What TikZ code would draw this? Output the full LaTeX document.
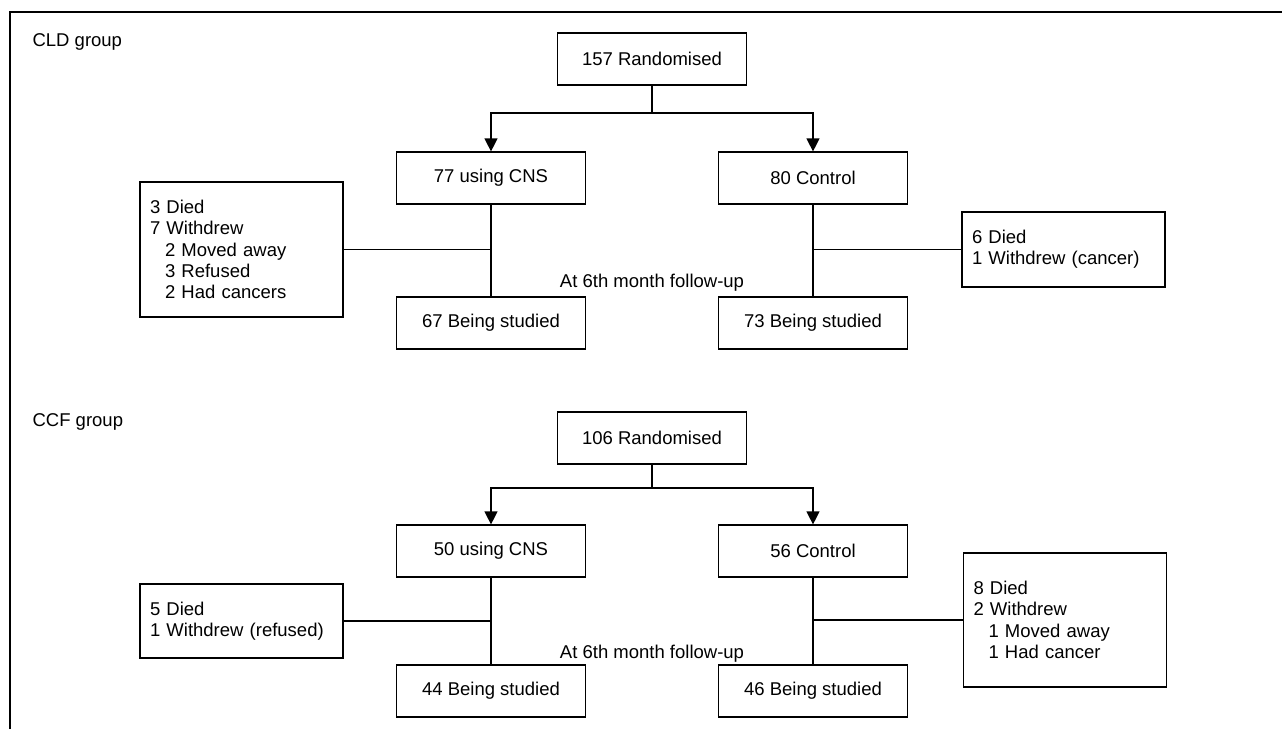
\documentclass[tikz,border=0pt]{standalone}
\usepackage{fontspec}
\setmainfont{Liberation Sans}
\usetikzlibrary{arrows.meta}

\begin{document}
\begin{tikzpicture}[x=1pt,y=-1pt,line width=1.2pt,
  >={Triangle[length=13pt,width=13pt]},
  txt/.style={font=\fontsize{18.5}{21.3}\selectfont,inner sep=0pt},
  box/.style={txt,draw,minimum width=189pt,minimum height=52pt},
  lossbox/.style={txt,draw,align=left,text width=183pt,inner xsep=10pt}]
  \useasboundingbox (0,0) rectangle (1282,729);
  \draw (10,729) -- (10,12) -- (1282,12);

  \node[txt,anchor=base west] (cld) at (32,46) {CLD group};
  \node[box] (rand1) at (652,59) {157 Randomised};
  \coordinate (split1) at (652,113);
  \node[box] (cns1) at (491,178) {77 using CNS};
  \node[box] (ctl1) at (813,178) {80 Control};
  \node[box] (cnsend1) at (491,323) {67 Being studied};
  \node[box] (ctlend1) at (813,323) {73 Being studied};
  \node[lossbox,minimum height=135pt] (cnsloss1) at (241.5,249.5)
    {3 Died\\7 Withdrew\\\hspace*{15pt}2 Moved away\\\hspace*{15pt}3 Refused\\\hspace*{15pt}2 Had cancers};
  \node[lossbox,minimum height=75pt] (ctlloss1) at (1063.5,249.5)
    {6 Died\\1 Withdrew (cancer)};
  \node[txt,anchor=base] (fu1) at (652,287) {At 6th month follow-up};

  \draw (rand1) -- (split1);
  \draw[->] (split1) -| (cns1);
  \draw[->] (split1) -| (ctl1);
  \draw (cns1) -- (cnsend1);
  \draw (ctl1) -- (ctlend1);
  \draw (cnsloss1) -- (cnsloss1 -| cns1);
  \draw (ctlloss1) -- (ctlloss1 -| ctl1);

  \node[txt,anchor=base west] (ccf) at (32,426) {CCF group};
  \node[box] (rand2) at (652,438) {106 Randomised};
  \coordinate (split2) at (652,488);
  \node[box] (cns2) at (491,551) {50 using CNS};
  \node[box] (ctl2) at (813,551) {56 Control};
  \node[box] (cnsend2) at (491,691) {44 Being studied};
  \node[box] (ctlend2) at (813,691) {46 Being studied};
  \node[lossbox,minimum height=74pt] (cnsloss2) at (241.5,621)
    {5 Died\\1 Withdrew (refused)};
  \node[lossbox,minimum height=134pt] (ctlloss2) at (1065,620)
    {8 Died\\2 Withdrew\\\hspace*{15pt}1 Moved away\\\hspace*{15pt}1 Had cancer};
  \node[txt,anchor=base] (fu2) at (652,658) {At 6th month follow-up};

  \draw (rand2) -- (split2);
  \draw[->] (split2) -| (cns2);
  \draw[->] (split2) -| (ctl2);
  \draw (cns2) -- (cnsend2);
  \draw (ctl2) -- (ctlend2);
  \draw (cnsloss2) -- (cnsloss2 -| cns2);
  \draw (ctlloss2) -- (ctlloss2 -| ctl2);

\end{tikzpicture}
\end{document}
